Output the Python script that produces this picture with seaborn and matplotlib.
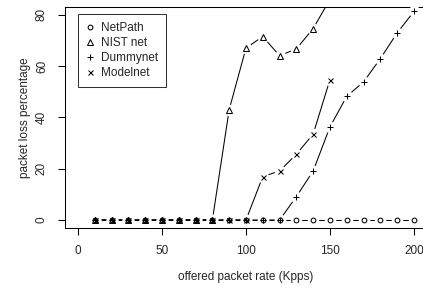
import numpy as np
import pandas as pd
import matplotlib
matplotlib.use('Agg')
import matplotlib.pyplot as plt
import seaborn as sns
from matplotlib.lines import Line2D

sns.set_theme(style='white')
plt.rcParams['font.family'] = ['Liberation Sans', 'DejaVu Sans']

# data
rate = list(range(10, 210, 10))
netpath = [0] * 20
nistnet_x = [10, 20, 30, 40, 50, 60, 70, 80, 90, 100, 110, 120, 130, 140, 150]
nistnet = [0, 0, 0, 0, 0, 0, 0, 0, 43, 67, 71.5, 64, 66.7, 74.6, 86]
dummynet_x = rate
dummynet = [0] * 12 + [9.1, 19.1, 36.3, 48.2, 53.8, 62.9, 72.9, 81.3]
modelnet_x = list(range(10, 160, 10))
modelnet = [0] * 10 + [16.9, 19.1, 25.6, 33.5, 54.7]

series = {
    'NetPath': (rate, netpath, 'o'),
    'NIST net': (nistnet_x, nistnet, '^'),
    'Dummynet': (dummynet_x, dummynet, '+'),
    'Modelnet': (modelnet_x, modelnet, 'x'),
}
msize = {'o': 3.4, '^': 4.0, '+': 4.6, 'x': 3.6}

fig = plt.figure(figsize=(4.23, 2.88), dpi=100)
ax = fig.add_axes([64.56 / 423, 1 - 228.2 / 288, (427.4 - 64.56) / 423, (228.2 - 6.5) / 288])

# lines first (R type="b": gaps around the points)
for name, (x, y, m) in series.items():
    df = pd.DataFrame({'x': x, 'y': y})
    sns.lineplot(data=df, x='x', y='y', ax=ax, color='black', lw=0.75, zorder=2)

# white backdrop to cut the gaps
for name, (x, y, m) in series.items():
    ax.plot(x, y, linestyle='none', marker='o', ms=8.3, mfc='white', mec='none', zorder=3)

# the point symbols
for name, (x, y, m) in series.items():
    df = pd.DataFrame({'x': x, 'y': y})
    sns.lineplot(data=df, x='x', y='y', ax=ax, linestyle='none', marker=m,
                 markersize=msize[m], markerfacecolor='none',
                 markeredgecolor='black', markeredgewidth=0.75, color='black', zorder=4)

ax.set_xlim(-8, 208)
ax.set_ylim(-3.2, 83.2)
ax.set_xticks([0, 50, 100, 150, 200])
ax.set_yticks([0, 20, 40, 60, 80])
ax.tick_params(axis='both', direction='out', length=5, width=0.75, color='black',
               labelsize=8.5, bottom=True, left=True)
ax.tick_params(axis='x', pad=7)
ax.tick_params(axis='y', pad=7)
for lab in ax.get_yticklabels():
    lab.set_rotation(90)
    lab.set_va('center')
for s in ax.spines.values():
    s.set_color('black')
    s.set_linewidth(0.75)

ax.set_xlabel('offered packet rate (Kpps)', fontsize=8.5)
ax.set_ylabel('packet loss percentage', fontsize=8.5)
ax.xaxis.set_label_coords(0.5, -0.22)
ax.xaxis.label.set_va('center')
ax.yaxis.set_label_coords(-0.108, 0.5)
ax.yaxis.label.set_va('center')

handles = [Line2D([], [], linestyle='none', marker=m, markerfacecolor='none',
                  markeredgecolor='black', markeredgewidth=0.75,
                  markersize=msize[m], label=name)
           for name, (x, y, m) in series.items()]
leg = ax.legend(handles=handles, loc='upper left', bbox_to_anchor=(77.7 / 423, 1 - 14.3 / 288),
                bbox_transform=fig.transFigure, fontsize=8.5, frameon=True, fancybox=False,
                edgecolor='black', borderpad=0.65, handlelength=0.8, handletextpad=0.55,
                labelspacing=0.25, borderaxespad=0)
leg.get_frame().set_linewidth(0.75)

fig.savefig('out.png', dpi=100)
